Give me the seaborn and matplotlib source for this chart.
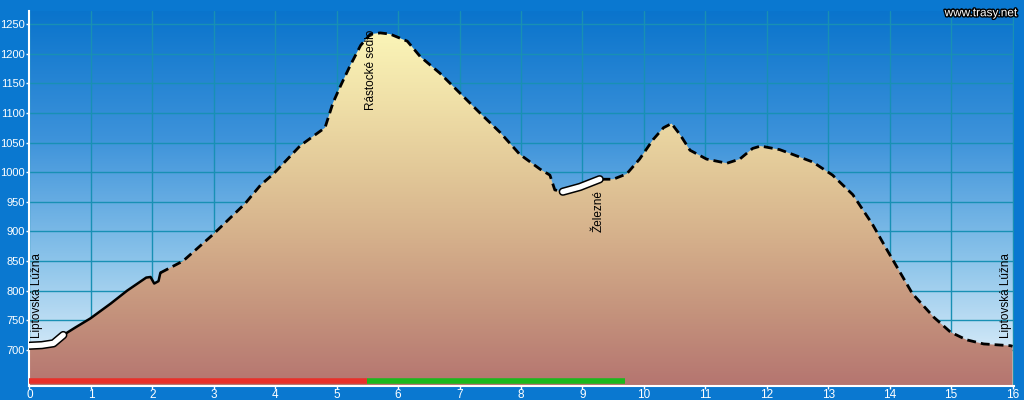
import matplotlib
matplotlib.use("Agg")
import matplotlib.pyplot as plt
import matplotlib.patheffects as pe
import numpy as np
import pandas as pd
import seaborn as sns
from matplotlib.colors import LinearSegmentedColormap
from matplotlib.patches import Polygon

# elevation profile (km, m)
dist_km = [0.0, 0.2, 0.39, 0.55, 0.75, 0.99, 1.32, 1.59, 1.9, 1.97, 2.03, 2.1, 2.13,
           2.5, 2.99, 3.51, 3.76, 3.97, 4.41, 4.81, 4.94, 5.06, 5.22, 5.39, 5.55, 5.71,
           5.87, 6.15, 6.36, 6.68, 7.01, 7.33, 7.66, 7.98, 8.31, 8.47, 8.55, 8.68, 8.96,
           9.28, 9.5, 9.72, 9.93, 10.15, 10.32, 10.45, 10.59, 10.75, 11.02, 11.35, 11.56,
           11.77, 11.9, 12.21, 12.42, 12.75, 13.07, 13.4, 13.72, 13.95, 14.37, 14.72,
           14.99, 15.25, 15.53, 15.97, 16.0]
elev_m = [707, 708, 711, 725, 738, 753, 778, 800, 822, 823, 812, 816, 830,
          850, 895, 947, 978, 997, 1045, 1075, 1117, 1145, 1180, 1214, 1233, 1235,
          1233, 1221, 1195, 1167, 1133, 1100, 1067, 1030, 1005, 995, 970, 967, 975,
          988, 988, 997, 1022, 1055, 1075, 1082, 1063, 1037, 1022, 1015, 1022,
          1040, 1044, 1038, 1030, 1017, 995, 962, 912, 870, 795, 755,
          730, 717, 710, 707, 706]

solid_span = (0.55, 2.13)
highlight_spans = [(0.0, 0.55), (8.68, 9.28)]

# coloured route bar along the bottom
bar_spans = [(0.0, 5.5), (5.5, 9.7)]
bar_colors = ["#e8302a", "#1cb81c"]

place_names = ["Liptovská Lúžna", "Rástocké sedlo", "Železné", "Liptovská Lúžna"]
place_km = [0.12, 5.56, 9.26, 15.9]
place_elev = [720, 1240, 970, 720]
place_va = ["bottom", "top", "top", "bottom"]

x_ticks = list(range(0, 17))
y_ticks = list(range(700, 1251, 50))

BORDER = "#0a78d0"
YMIN, YMAX = 639, 1272
XMAX = 16.02

sns.set_style("white")
plt.rcParams["font.family"] = ["Liberation Sans", "DejaVu Sans"]

df = pd.DataFrame({"km": dist_km, "elev": elev_m})

fig = plt.figure(figsize=(10.24, 4.0), dpi=100, facecolor=BORDER)
ax = fig.add_axes([0.0288, 0.035, 0.9612, 0.9375])
ax.set_facecolor(BORDER)

# sky gradient
sky = LinearSegmentedColormap.from_list("sky", ["#eef7fd", "#8cc4ea", "#3c92da", "#0a74cc"])
grad = np.linspace(0, 1, 256).reshape(-1, 1)
ax.imshow(grad, extent=[0, XMAX, YMIN, YMAX], origin="lower", aspect="auto",
          cmap=sky, zorder=0.2)

# terrain gradient clipped to the profile
terrain = LinearSegmentedColormap.from_list(
    "terrain", ["#b57570", "#c4927c", "#d4ae8a", "#e2c898", "#f0e0a8", "#fbf6b8"])
poly_xy = np.column_stack([[0] + dist_km + [dist_km[-1]], [YMIN] + elev_m + [YMIN]])
poly = Polygon(poly_xy, closed=True, facecolor="none", edgecolor="none")
ax.add_patch(poly)
im = ax.imshow(grad, extent=[0, XMAX, YMIN, 1240], origin="lower", aspect="auto",
               cmap=terrain, zorder=2)
im.set_clip_path(poly)

# profile line: solid on one stretch, dashed elsewhere
solid = df[(df.km >= solid_span[0]) & (df.km <= solid_span[1])]
dash_a = df[df.km <= solid_span[0]]
dash_b = df[df.km >= solid_span[1]]
sns.lineplot(data=solid, x="km", y="elev", ax=ax, color="black", lw=1.8, zorder=3)
for part in (dash_a, dash_b):
    sns.lineplot(data=part, x="km", y="elev", ax=ax, color="black", lw=2.0,
                 linestyle=(0, (3.2, 1.8)), zorder=3)

for lo, hi in highlight_spans:
    seg = df[(df.km >= lo) & (df.km <= hi)]
    sns.lineplot(data=seg, x="km", y="elev", ax=ax, color="black", lw=6,
                 solid_capstyle="round", zorder=4)
    sns.lineplot(data=seg, x="km", y="elev", ax=ax, color="white", lw=3.8,
                 solid_capstyle="round", zorder=5)

for (lo, hi), c in zip(bar_spans, bar_colors):
    ax.plot([lo, hi], [647, 647], color=c, lw=4, solid_capstyle="butt", zorder=6)

for name, x, y, va in zip(place_names, place_km, place_elev, place_va):
    ax.text(x, y, name, rotation=90, ha="center", va=va, fontsize=8.5,
            color="black", zorder=7)

ax.set_xlim(0, XMAX)
ax.set_ylim(YMIN, YMAX)
ax.set_xticks(x_ticks)
ax.set_yticks(y_ticks)
ax.set_axisbelow(True)
ax.grid(True, color="#1890b4", lw=1.0)
ax.set_xlabel("")
ax.set_ylabel("")
for side in ("top", "right"):
    ax.spines[side].set_visible(False)
for side in ("left", "bottom"):
    ax.spines[side].set_color("white")
    ax.spines[side].set_linewidth(1.5)
ax.tick_params(axis="y", colors="white", labelsize=8, length=2.5, width=1,
               direction="out", pad=1, left=True)
ax.tick_params(axis="x", colors="white", labelsize=8.5, length=2, width=1,
               direction="out", pad=0, bottom=True)

fig.text(0.993, 0.982, "www.trasy.net", ha="right", va="top", color="white",
         fontsize=8.5, path_effects=[pe.withStroke(linewidth=2, foreground="black")])

fig.savefig("out.png", dpi=100, facecolor=BORDER)
